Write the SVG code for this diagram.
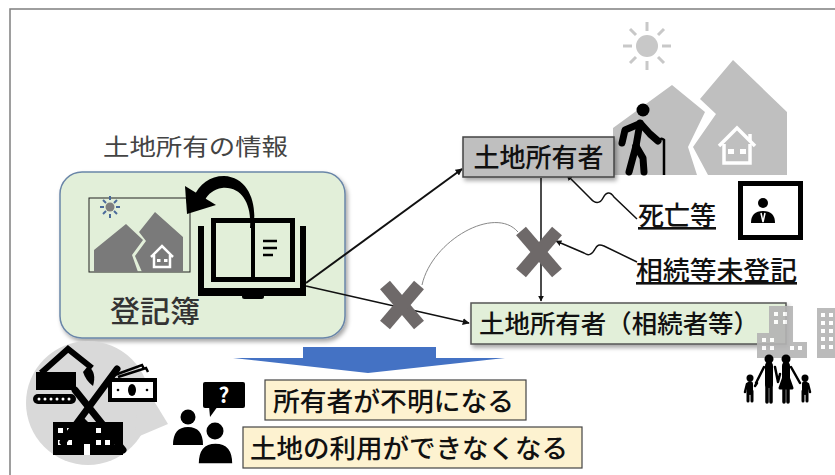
<svg xmlns="http://www.w3.org/2000/svg" width="835" height="475" viewBox="0 0 835 475">
  <defs>
    <filter id="shadow" x="-10%" y="-10%" width="130%" height="140%">
      <feDropShadow dx="2" dy="3" stdDeviation="2" flood-color="#000" flood-opacity="0.35"/>
    </filter>
    <marker id="arrow" viewBox="0 0 10 10" refX="9" refY="5" markerWidth="7" markerHeight="7" orient="auto" markerUnits="userSpaceOnUse">
      <path d="M0,0 L10,5 L0,10 z" fill="#111"/>
    </marker>
    <marker id="arrowSmall" viewBox="0 0 10 10" refX="9" refY="5" markerWidth="6" markerHeight="6" orient="auto" markerUnits="userSpaceOnUse">
      <path d="M0,0 L10,5 L0,10 z" fill="#111"/>
    </marker>
  </defs>
  <style>
    text { font-family: "Noto Sans CJK JP", "Noto Sans", sans-serif; }
    .lbl { font-size: 26px; fill: #111; font-weight: 500; }
    .ul { font-size: 26px; fill: #111; font-weight: 500; text-decoration: underline; }
    .conn { fill: none; stroke: #111; }
    .cross { stroke: #6e6969; stroke-width: 13; }
    .gmtn { fill: #bfbfbf; }
    .blk { fill: #000; }
    .bldg { fill: #b4b4b4; }
  </style>

  <rect width="835" height="475" fill="#fff"/>
  <!-- outer frame -->
  <rect x="10" y="9" width="840" height="480" fill="none" stroke="#7f7f7f" stroke-width="1.5"/>

  <!-- scenery: sun, mountains, elderly owner -->
  <g id="owner-scene">
    <g stroke="#c8c8c8" stroke-width="3">
      <line x1="647" y1="22" x2="647" y2="31"/>
      <line x1="647" y1="61" x2="647" y2="70"/>
      <line x1="623" y1="46" x2="632" y2="46"/>
      <line x1="662" y1="46" x2="671" y2="46"/>
      <line x1="630" y1="29" x2="636" y2="35"/>
      <line x1="658" y1="57" x2="664" y2="63"/>
      <line x1="664" y1="29" x2="658" y2="35"/>
      <line x1="636" y1="57" x2="630" y2="63"/>
    </g>
    <circle cx="647" cy="46" r="11" fill="#c8c8c8"/>
    <polygon class="gmtn" points="613,128 672,85 705,112 688,147 697,175 613,175"/>
    <polygon class="gmtn" points="733,60 787,112 787,175 708,175 693,147 716,114 700,99"/>
    <g fill="none" stroke="#fff" stroke-width="3.5" stroke-linejoin="miter">
      <polyline points="719,146 737,128 755,146"/>
      <line x1="750" y1="134" x2="750" y2="141"/>
      <path d="M724 144 V163 H750 V144"/>
    </g>
    <rect x="728" y="149" width="6" height="5" fill="#fff"/>
    <rect x="740" y="149" width="6" height="5" fill="#fff"/>
    <!-- elderly walker -->
    <circle cx="643" cy="110" r="6.5" class="blk"/>
    <g fill="none" stroke="#000" stroke-width="7" stroke-linecap="round" stroke-linejoin="round">
      <path d="M640 123 L636 146"/>
      <path d="M636 146 L629 172"/>
      <path d="M636 146 L643 158 L644 172"/>
      <path d="M639 124 L625 130 L622 143"/>
      <path d="M641 124 L650 134 L658 141"/>
    </g>
    <path d="M659 141 Q661 137 664 140 L664 175" fill="none" stroke="#000" stroke-width="2.5"/>
  </g>

  <!-- portrait of the deceased -->
  <g id="portrait">
    <rect x="740.5" y="183.5" width="60" height="54" fill="#fff" stroke="#000" stroke-width="5"/>
    <circle cx="763" cy="203" r="5" class="blk"/>
    <path d="M751 223 Q751 211 763 211 Q775 211 775 223 Z" class="blk"/>
    <path d="M761 213 L763 222 L765 213" fill="none" stroke="#fff" stroke-width="1.5"/>
  </g>

  <!-- heading -->
  <text x="103" y="155" font-size="23" fill="#444" textLength="185" lengthAdjust="spacingAndGlyphs">土地所有の情報</text>

  <!-- land register panel -->
  <g id="register">
    <rect x="60" y="172" width="285" height="166" rx="22" fill="#e2efd9" stroke="#6a86a8" stroke-width="1.5" filter="url(#shadow)"/>
    <!-- land picture -->
    <rect x="89" y="198" width="101" height="74" fill="none" stroke="#222" stroke-width="1"/>
    <g stroke="#4a6a9a" stroke-width="2">
      <line x1="110" y1="196" x2="110" y2="200"/>
      <line x1="110" y1="214" x2="110" y2="218"/>
      <line x1="100" y1="207" x2="104" y2="207"/>
      <line x1="116" y1="207" x2="120" y2="207"/>
      <line x1="103" y1="200" x2="106" y2="203"/>
      <line x1="114" y1="211" x2="117" y2="214"/>
      <line x1="117" y1="200" x2="114" y2="203"/>
      <line x1="106" y1="211" x2="103" y2="214"/>
    </g>
    <circle cx="110" cy="207" r="4.5" fill="#7f7f7f"/>
    <polygon points="94,250 126,224 143,240 132,255 138,272 94,272" fill="#7a7a7a"/>
    <polygon points="155,212 183,237 183,272 142,272 135,256 146,241 139,232" fill="#7a7a7a"/>
    <g fill="none" stroke="#fff" stroke-width="2.5">
      <polyline points="151,257 162,246 173,257"/>
      <path d="M154 255 V267 H170 V255"/>
    </g>
    <rect x="157" y="259" width="3.5" height="3" fill="#fff"/>
    <rect x="164" y="259" width="3.5" height="3" fill="#fff"/>
    <!-- register book -->
    <rect x="198" y="226" width="6" height="70" class="blk"/>
    <rect x="300" y="226" width="6" height="70" class="blk"/>
    <rect x="198" y="288" width="108" height="8" class="blk"/>
    <rect x="242" y="294" width="22" height="5" rx="2.5" class="blk"/>
    <rect x="213.5" y="220.5" width="79" height="59" fill="none" stroke="#000" stroke-width="5"/>
    <line x1="253" y1="220" x2="253" y2="280" stroke="#000" stroke-width="4"/>
    <g stroke="#000" stroke-width="2.5">
      <line x1="263" y1="241" x2="277" y2="241"/>
      <line x1="263" y1="248" x2="277" y2="248"/>
      <line x1="263" y1="255" x2="273" y2="255"/>
    </g>
    <!-- curved arrow from book to picture -->
    <path d="M250 228 C252 205, 242 186, 222 188 C214 189, 208 194, 205 200 L194 197 C199 184, 210 176, 224 176 C249 177, 258 205, 253 228 Z" class="blk"/>
    <polygon points="185,186 187,214 216,205" class="blk"/>
    <text x="110" y="322" font-size="30" font-weight="500" fill="#333">登記簿</text>
  </g>

  <!-- connectors -->
  <g id="connectors">
    <line x1="306" y1="283" x2="462" y2="169" class="conn" stroke-width="2" marker-end="url(#arrow)"/>
    <line x1="306" y1="286" x2="469" y2="323" class="conn" stroke-width="1.5" marker-end="url(#arrow)"/>
    <line x1="541" y1="178" x2="541" y2="301" class="conn" stroke="#333" stroke-width="1.5" marker-end="url(#arrowSmall)"/>
    <path d="M422 285 C432 240, 495 205, 518 232" fill="none" stroke="#888" stroke-width="1"/>
    <path d="M637 219 L614 197 C610 191, 606 192, 603 198 C600 204, 595 204, 590 198 L567 175" class="conn" stroke-width="1.5" marker-end="url(#arrowSmall)"/>
    <path d="M637 262 L604 246 C599 244, 597 245, 595 249 C592 255, 588 256, 584 253 L556 241" class="conn" stroke-width="1.5" marker-end="url(#arrowSmall)"/>
    <!-- broken links -->
    <g class="cross">
      <line x1="385" y1="285" x2="419" y2="325"/>
      <line x1="419" y1="285" x2="385" y2="325"/>
      <line x1="521" y1="231" x2="557" y2="273"/>
      <line x1="557" y1="231" x2="521" y2="273"/>
    </g>
  </g>

  <!-- registered owner -->
  <g id="owner">
    <rect x="463" y="137" width="151" height="40" fill="#bfbfbf" stroke="#444" stroke-width="1.5" filter="url(#shadow)"/>
    <text x="538.5" y="167" class="lbl" text-anchor="middle">土地所有者</text>
  </g>

  <!-- heirs -->
  <g id="heirs">
    <rect x="471" y="303" width="315" height="41" fill="#e2efd9" stroke="#555" stroke-width="1.5" filter="url(#shadow)"/>
    <text x="479" y="333" font-size="25" font-weight="500" fill="#111" textLength="280" lengthAdjust="spacingAndGlyphs">土地所有者（相続者等）</text>
  </g>

  <!-- city and heirs' family -->
  <g id="heirs-scene">
    <g opacity="0.9">
      <rect x="769" y="306" width="24" height="52" class="bldg"/>
      <rect x="817" y="308" width="20" height="50" class="bldg"/>
      <rect x="757" y="333" width="22" height="25" class="bldg"/>
      <rect x="785" y="342" width="22" height="16" class="bldg"/>
      <g fill="#fff">
        <rect x="774" y="312" width="4" height="4"/><rect x="783" y="312" width="4" height="4"/>
        <rect x="774" y="320" width="4" height="4"/><rect x="783" y="320" width="4" height="4"/>
        <rect x="821" y="313" width="4" height="4"/><rect x="829" y="313" width="4" height="4"/>
        <rect x="821" y="321" width="4" height="4"/><rect x="829" y="321" width="4" height="4"/>
        <rect x="821" y="329" width="4" height="4"/><rect x="829" y="329" width="4" height="4"/>
        <rect x="821" y="337" width="4" height="4"/><rect x="829" y="337" width="4" height="4"/>
        <rect x="821" y="345" width="4" height="4"/><rect x="829" y="345" width="4" height="4"/>
        <rect x="762" y="338" width="4" height="4"/><rect x="770" y="338" width="4" height="4"/>
        <rect x="762" y="346" width="4" height="4"/><rect x="770" y="346" width="4" height="4"/>
        <rect x="790" y="346" width="4" height="4"/><rect x="798" y="346" width="4" height="4"/>
      </g>
    </g>
    <!-- family -->
    <circle cx="769" cy="359" r="4.5" class="blk"/>
    <circle cx="786" cy="359" r="4.5" class="blk"/>
    <circle cx="750" cy="378" r="3.5" class="blk"/>
    <circle cx="805" cy="378" r="3.5" class="blk"/>
    <g fill="none" stroke="#000" stroke-linecap="round" stroke-linejoin="round">
      <path d="M769 366 V384" stroke-width="8"/>
      <path d="M767 384 V402 M771 384 V402" stroke-width="3.5"/>
      <path d="M786 366 V378" stroke-width="8"/>
      <path d="M780 388 L786 371 L792 388 Z" fill="#000" stroke-width="3"/>
      <path d="M784 388 V402 M788 388 V402" stroke-width="3.5"/>
      <path d="M764 367 L756 383 M775 367 L778 382 L780 374 M791 367 L800 383" stroke-width="2.5"/>
      <path d="M750 384 V392" stroke-width="6"/>
      <path d="M748 391 V401 M752 391 V401" stroke-width="3"/>
      <path d="M745 392 L747 384 M755 386 L757 383" stroke-width="2.5"/>
      <path d="M805 384 V392" stroke-width="6"/>
      <path d="M803 391 V401 M807 391 V401" stroke-width="3"/>
      <path d="M810 392 L808 384" stroke-width="2.5"/>
    </g>
  </g>

  <!-- causes -->
  <g id="death">
    <text x="638" y="225" class="ul">死亡等</text>
  </g>
  <g id="unregistered">
    <text x="636" y="280" class="ul" textLength="161" lengthAdjust="spacingAndGlyphs">相続等未登記</text>
  </g>

  <!-- consequence arrow -->
  <g id="result-arrow">
    <polygon points="303,347 436,347 436,358 505,358 368,373 233,358 303,358" fill="#4472c4"/>
  </g>

  <!-- consequences -->
  <g id="unknown-owner">
    <rect x="265" y="380" width="261" height="40" fill="#fdf2d0" stroke="#444" stroke-width="1.2"/>
    <text x="273" y="411" class="lbl" textLength="241" lengthAdjust="spacingAndGlyphs">所有者が不明になる</text>
  </g>
  <g id="land-unusable">
    <rect x="243" y="427" width="339" height="41" fill="#fdf2d0" stroke="#444" stroke-width="1.2"/>
    <text x="250" y="458" class="lbl" textLength="318" lengthAdjust="spacingAndGlyphs">土地の利用ができなくなる</text>
  </g>

  <!-- puzzled people -->
  <g id="puzzled">
    <rect x="203" y="382" width="42" height="26" rx="2" class="blk"/>
    <polygon points="209,406 218,406 210,417" class="blk"/>
    <text x="224" y="403" font-size="21" font-weight="700" fill="#fff" text-anchor="middle">?</text>
    <circle cx="188" cy="417" r="7.5" class="blk"/>
    <path d="M173 445 Q173 427 188 427 Q203 427 203 445 Z" class="blk"/>
    <circle cx="215" cy="431" r="8.5" class="blk"/>
    <path d="M198 464 Q198 443 215.5 443 Q233 443 233 464 Z" class="blk" stroke="#fff" stroke-width="1.5"/>
  </g>

  <!-- blocked development -->
  <g id="blocked-use">
    <circle cx="88" cy="403" r="62" fill="#d9d9d9"/>
    <polygon points="140,378 168,424 135,438" fill="#d9d9d9"/>
    <!-- excavator -->
    <path d="M41 373 L68 349 L92 368" fill="none" stroke="#000" stroke-width="6" stroke-linejoin="miter"/>
    <path d="M88 366 Q97 372 93 386 Q86 381 83 372 Z" class="blk"/>
    <rect x="36" y="372" width="40" height="18" class="blk"/>
    <rect x="33" y="394" width="43" height="10" rx="5" class="blk"/>
    <g fill="#fff">
      <circle cx="39" cy="399" r="1.5"/><circle cx="45" cy="399" r="1.5"/><circle cx="51" cy="399" r="1.5"/>
      <circle cx="57" cy="399" r="1.5"/><circle cx="63" cy="399" r="1.5"/><circle cx="69" cy="399" r="1.5"/>
    </g>
    <!-- money -->
    <path d="M112 376 L142 365 L144 369 M118 377 L146 368 L148 372" fill="none" stroke="#000" stroke-width="2.5"/>
    <rect x="108" y="378" width="49" height="24" class="blk"/>
    <rect x="112" y="382" width="41" height="16" fill="#fff"/>
    <ellipse cx="132" cy="390" rx="4" ry="6" class="blk"/>
    <circle cx="118" cy="390" r="1.3" class="blk"/>
    <circle cx="147" cy="390" r="1.3" class="blk"/>
    <!-- building -->
    <path d="M53 422 H80 L84 418 L88 422 H123 V455 H53 Z" class="blk"/>
    <g fill="#fff">
      <rect x="58" y="428" width="5" height="5"/><rect x="67" y="428" width="5" height="5"/>
      <rect x="96" y="428" width="5" height="5"/><rect x="105" y="428" width="5" height="5"/>
      <rect x="58" y="440" width="5" height="5"/><rect x="67" y="440" width="5" height="5"/>
      <rect x="96" y="440" width="5" height="5"/><rect x="105" y="440" width="5" height="5"/><rect x="114" y="440" width="5" height="5"/>
      <rect x="84" y="444" width="6" height="11"/>
    </g>
    <!-- prohibition cross -->
    <g stroke="#000" stroke-width="7" stroke-linecap="round">
      <line x1="117" y1="369" x2="63" y2="442"/>
      <line x1="75" y1="390" x2="123" y2="450"/>
    </g>
  </g>
</svg>
